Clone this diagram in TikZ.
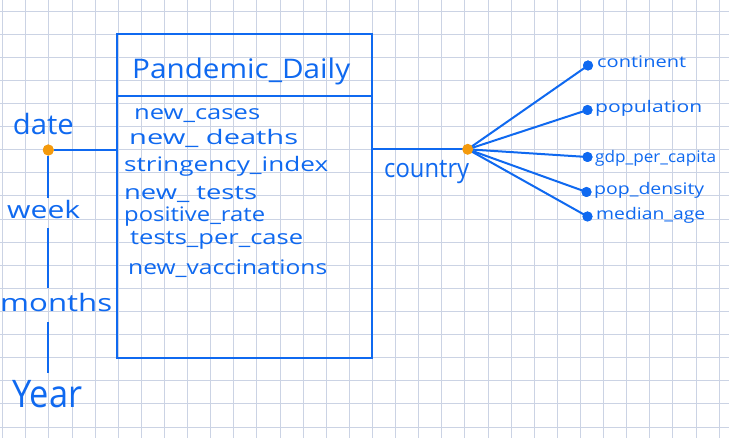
\documentclass[tikz,border=0pt]{standalone}
\usepackage{fontspec}
\setmainfont{Open Sans}
\usepackage{graphicx}
\definecolor{penblue}{RGB}{15,105,240}
\definecolor{dotorange}{RGB}{244,154,12}
\definecolor{gridc}{RGB}{203,211,228}
\newcommand\hw[3]{\resizebox{#2pt}{\height}{\fontsize{#1pt}{#1pt}\selectfont #3}}
\begin{document}
\begin{tikzpicture}[x=1pt,y=-1pt,
  gridline/.style={draw=gridc,line width=0.8pt},
  penline/.style={draw=penblue,line width=2pt},
  lbl/.style={text=penblue,inner sep=0pt,anchor=base west},
  bdot/.style={circle,fill=penblue,inner sep=0pt,minimum size=10pt},
  odot/.style={circle,fill=dotorange,inner sep=0pt,minimum size=11pt}]
\fill[white] (0,0) rectangle (729,438);
\useasboundingbox (0,0) rectangle (729,438);
\foreach \i in {0,...,31}{\draw[gridline] ({2.6+23.11*\i},0) -- ({2.6+23.11*\i},438);}
\foreach \j in {0,...,18}{\draw[gridline] (0,{11+23.11*\j}) -- (729,{11+23.11*\j});}

% entity box
\node[penline, minimum width=254.7pt, minimum height=323.7pt, inner sep=0pt] (box) at (244.65,195.85) {};
\coordinate (div) at (244.65,95.7);
\draw[penline] (box.west |- div) -- (box.east |- div);
\node[lbl] (title) at (132,79) {\hw{27}{218}{Pandemic\_Daily}};

\node[lbl] (a1) at (134,120) {\hw{20}{126}{new\_cases}};
\node[lbl] (a2) at (129,145) {\hw{20}{169}{new\_ deaths}};
\node[lbl] (a3) at (124,172) {\hw{20}{204}{stringency\_index}};
\node[lbl] (a4) at (124,200) {\hw{20}{133}{new\_ tests}};
\node[lbl] (a5) at (124,222) {\hw{20}{141}{positive\_rate}};
\node[lbl] (a6) at (130,245) {\hw{20}{173}{tests\_per\_case}};
\node[lbl] (a7) at (128,275) {\hw{20}{199}{new\_vaccinations}};

% date hierarchy
\node[lbl] (date) at (12.7,135) {\hw{28}{61}{date}};
\node[lbl] (week) at (7,219) {\hw{24}{73}{week}};
\node[lbl] (months) at (0,312) {\hw{24}{112}{months}};
\node[lbl] (year) at (12,408) {\hw{38}{70}{Year}};

\node[odot] (datedot) at (48.3,150) {};
\draw[penline] (datedot) -- (datedot -| box.west);
\draw[penline, shorten >=3pt] (datedot) -- (datedot |- week.north);
\draw[penline, shorten <=9pt, shorten >=6pt] (datedot |- week.south) -- (datedot |- months.north);
\draw[penline, shorten <=10pt, shorten >=8pt] (datedot |- months.south) -- (datedot |- year.north);
\fill[dotorange] (datedot) circle (5.5pt);

% country
\coordinate (cy) at (467.7,149.3);
\node[lbl] (country) at (384,178) {\hw{26}{85}{country}};
\node[bdot] (d1) at (588,65.5) {};
\node[bdot] (d2) at (587.5,110) {};
\node[bdot] (d3) at (587.5,157) {};
\node[bdot] (d4) at (586.5,192) {};
\node[bdot] (d5) at (587.5,216.5) {};
\draw[penline] (cy -| box.east) -- (cy);
\foreach \d in {d1,d2,d3,d4,d5}{\draw[penline] (cy) -- (\d.center);}
\foreach \d in {d1,d2,d3,d4,d5}{\fill[penblue] (\d) circle (5pt);}
\node[odot] (countrydot) at (cy) {};

\node[lbl] (t1) at (597,68) {\hw{16}{89}{continent}};
\node[lbl] (t2) at (595,113) {\hw{16}{107}{population}};
\node[lbl] (t3) at (595,163) {\hw{16}{121}{gdp\_per\_capita}};
\node[lbl] (t4) at (594,195) {\hw{16}{110}{pop\_density}};
\node[lbl] (t5) at (596,220) {\hw{16}{109}{median\_age}};
\end{tikzpicture}
\end{document}
